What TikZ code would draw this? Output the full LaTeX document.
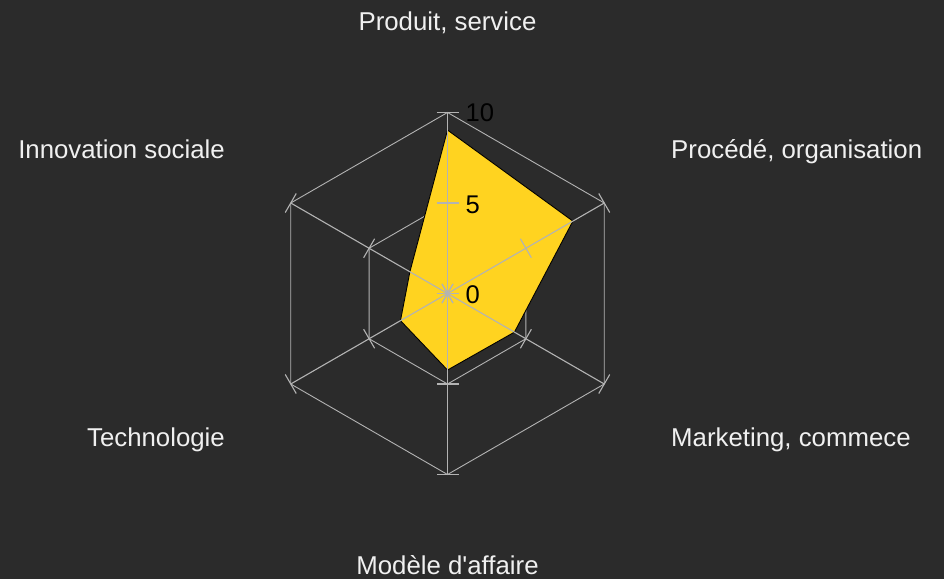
\documentclass[tikz,border=0pt]{standalone}
\usepackage{fontspec}
\setmainfont{Liberation Sans}[Ligatures=TeXOff]
\usetikzlibrary{calc}
\definecolor{bgcol}{RGB}{43,43,43}
\definecolor{gridcol}{RGB}{179,179,179}
\definecolor{yelcol}{RGB}{255,211,32}
\definecolor{lblcol}{RGB}{240,240,240}
\begin{document}
\begin{tikzpicture}[x=1pt,y=1pt,
  gridline/.style={draw=gridcol, line width=0.9pt},
  axisline/.style={draw=gridcol, line width=1.1pt},
  serie/.style={fill=yelcol, draw=black, line width=0.9pt, line join=miter},
  catlabel/.style={text=lblcol, font=\fontsize{25.8}{30}\selectfont, inner sep=0pt},
  scalelabel/.style={text=black, font=\fontsize{25.6}{30}\selectfont, inner sep=0pt, anchor=base west}]
\useasboundingbox (0,0) rectangle (944,579);
\fill[bgcol] (0,0) rectangle (944,579);
\coordinate (C) at (447.5,285.5);
\def\U{18.1}
\foreach \i/\a/\v in {1/90/9.03,2/30/8.0,3/-30/4.27,4/-90/4.23,5/-150/3.0,6/150/2.4}{
  \coordinate (O\i) at ($(C)+(\a:181)$);
  \coordinate (M\i) at ($(C)+(\a:90.5)$);
  \coordinate (P\i) at ($(C)+(\a:{\v*\U})$);
}
% grid hexagons
\draw[gridline] (O1)--(O2)--(O3)--(O4)--(O5)--(O6)--cycle;
\draw[gridline] (M1)--(M2)--(M3)--(M4)--(M5)--(M6)--cycle;
% data series
\draw[serie] (P1)--(P2)--(P3)--(P4)--(P5)--(P6)--cycle;
% axes and ticks
\foreach \i/\a in {1/90,2/30,3/-30,4/-90,5/-150,6/150}{
  \draw[axisline] (C)--(O\i);
  \draw[axisline] ($(C)+(\a+90:11)$)--($(C)+(\a-90:11)$);
  \draw[axisline] ($(M\i)+(\a+90:11)$)--($(M\i)+(\a-90:11)$);
  \draw[axisline] ($(O\i)+(\a+90:11)$)--($(O\i)+(\a-90:11)$);
}
% scale labels
\node[scalelabel] (s10) at (465.5,457.5) {10};
\node[scalelabel] (s5) at (465.5,365.5) {5};
\node[scalelabel] (s0) at (465.5,276) {0};
% category labels
\node[catlabel, anchor=base] (l1) at (447.5,548) {Produit, service};
\node[catlabel, anchor=base west] (l2) at (671,420) {Procédé, organisation};
\node[catlabel, anchor=base west] (l3) at (671,133) {Marketing, commece};
\node[catlabel, anchor=base] (l4) at (447.5,5) {Modèle d'affaire};
\node[catlabel, anchor=base east] (l5) at (225,133) {Technologie};
\node[catlabel, anchor=base east] (l6) at (225,420) {Innovation sociale};
\end{tikzpicture}
\end{document}
